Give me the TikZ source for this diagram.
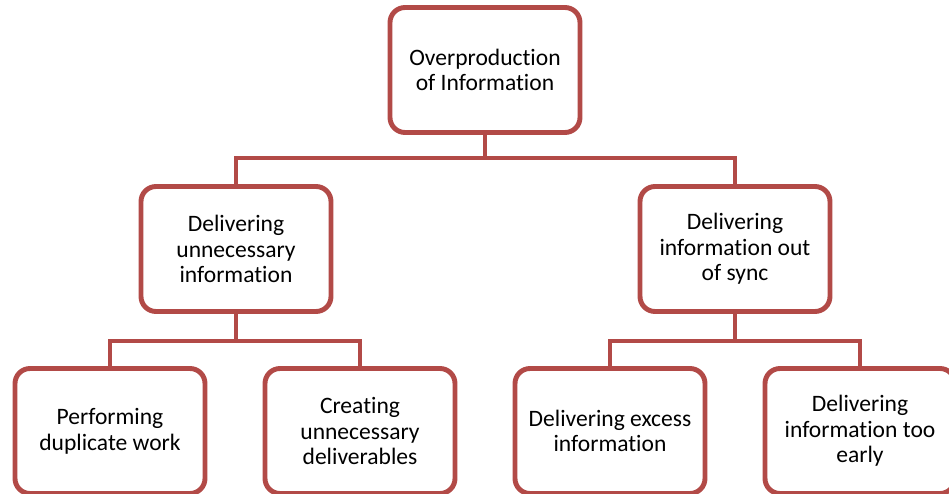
\documentclass[tikz,border=0pt]{standalone}
\usepackage{fontspec}
\setmainfont{Carlito}[Ligatures={NoCommon}]
\definecolor{boxred}{RGB}{178,74,71}
\tikzstyle{infobox}=[rectangle, draw=boxred, line width=2.8pt, rounded corners=0.3cm, fill=white, minimum width=3.8cm, minimum height=2.5cm, align=center, font=\fontsize{13.4}{14.6}\selectfont]
\tikzstyle{link}=[draw=boxred, line width=2.4pt]

\begin{document}
\begin{tikzpicture}
\useasboundingbox (0,0) rectangle (18.98,9.86);
\clip (0,0) rectangle (18.98,9.86);

\node[infobox] (root) at (9.70,8.46) {Overproduction\\of Information};

\node[infobox] (unnec) at (4.72,4.88) {Delivering\\unnecessary\\information};
\node[infobox] (sync) at (14.70,4.88) {Delivering\\information out\\of sync};

\node[infobox] (dup) at (2.20,1.24) {Performing\\duplicate work};
\node[infobox] (deliv) at (7.20,1.24) {Creating\\unnecessary\\deliverables};
\node[infobox] (excess) at (12.20,1.24) {Delivering excess\\information};
\node[infobox] (early) at (17.20,1.24) {Delivering\\information too\\early};

\coordinate (b1) at (9.70,6.70);
\coordinate (b2) at (4.72,3.04);
\coordinate (b3) at (14.70,3.04);

\draw[link] (root) -- (b1);
\draw[link] (b1) -| (unnec);
\draw[link] (b1) -| (sync);
\draw[link] (unnec) -- (b2);
\draw[link] (b2) -| (dup);
\draw[link] (b2) -| (deliv);
\draw[link] (sync) -- (b3);
\draw[link] (b3) -| (excess);
\draw[link] (b3) -| (early);
\end{tikzpicture}
\end{document}
